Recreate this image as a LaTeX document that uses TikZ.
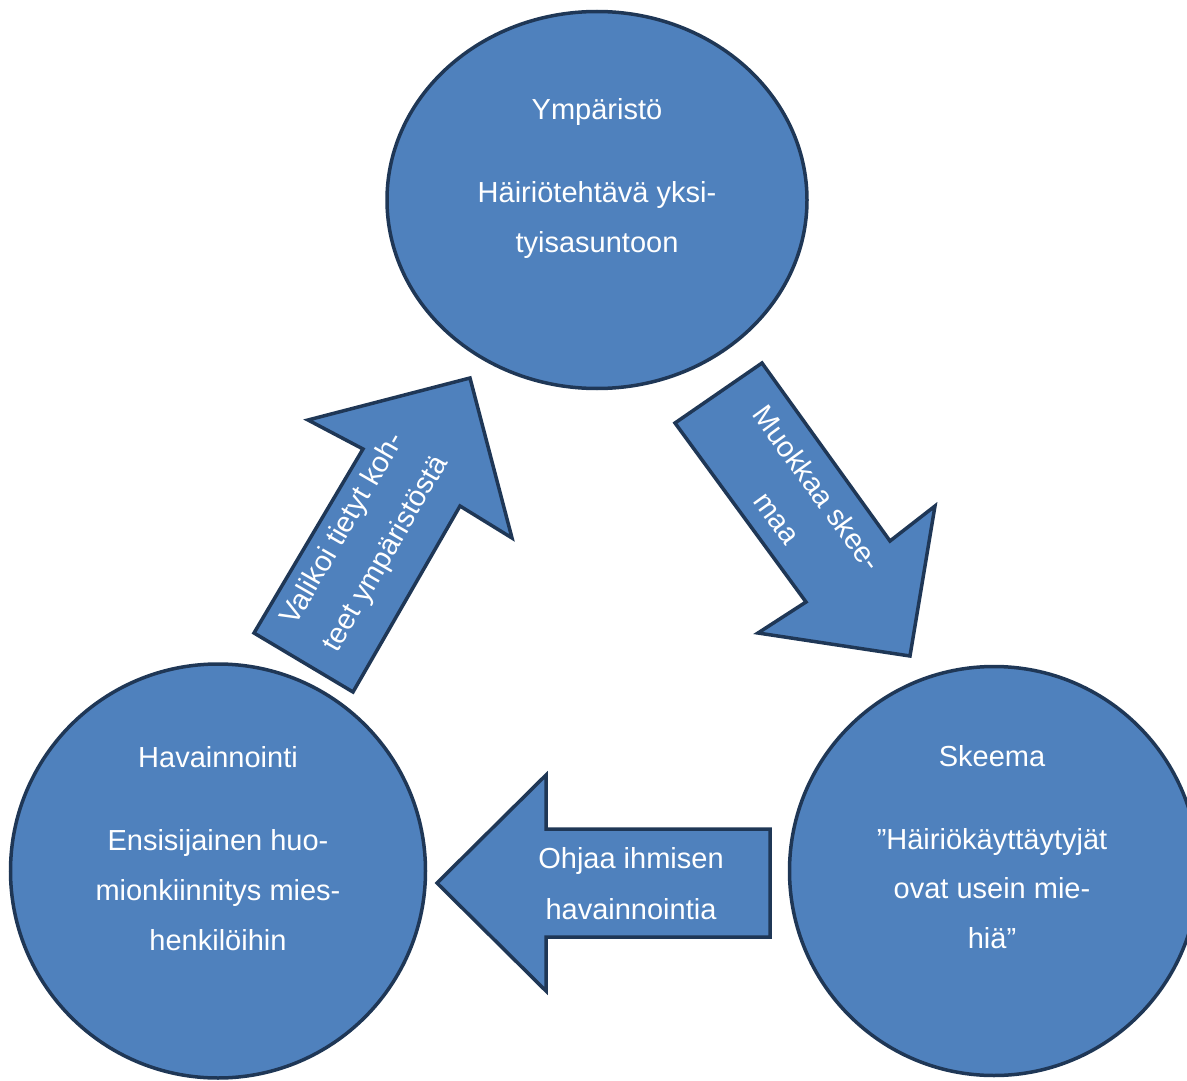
\documentclass[tikz,border=0pt]{standalone}
\usepackage{fontspec}
\setmainfont{Liberation Sans}
\usetikzlibrary{shapes.geometric}
\definecolor{fillblue}{HTML}{4F81BD}
\definecolor{edgeblue}{HTML}{1F3756}
\begin{document}
\begin{tikzpicture}[x=1pt,y=-1pt,
  circ/.style={ellipse, draw=edgeblue, fill=fillblue, line width=3.5pt, inner sep=0pt},
  blockarrow/.style={draw=edgeblue, fill=fillblue, line width=3.5pt, line join=miter},
  lbl/.style={text=white, font=\fontsize{29}{50}\selectfont, anchor=base, inner sep=0pt}]
\useasboundingbox (0,0) rectangle (1187,1081);
\clip (0,0) rectangle (1187,1081);

% circles
\node[circ, minimum width=420pt, minimum height=377pt] (env) at (597,200) {};
\node[circ, minimum width=415pt, minimum height=414pt] (perc) at (218,871) {};
\node[circ, minimum width=409pt, minimum height=409pt] (schema) at (994,871) {};

% arrow: perception -> environment
\coordinate (u1) at (470,378);
\coordinate (u2) at (512,538);
\coordinate (u3) at (460,506);
\coordinate (u4) at (353,692);
\coordinate (u5) at (254,633);
\coordinate (u6) at (363,449);
\coordinate (u7) at (308,420);
\draw[blockarrow] (u1) -- (u2) -- (u3) -- (u4) -- (u5) -- (u6) -- (u7) -- cycle;

% arrow: environment -> schema
\coordinate (r1) at (910,656);
\coordinate (r2) at (758,633);
\coordinate (r3) at (806,602);
\coordinate (r4) at (675,423);
\coordinate (r5) at (762,363);
\coordinate (r6) at (890,541);
\coordinate (r7) at (935,506);
\draw[blockarrow] (r1) -- (r2) -- (r3) -- (r4) -- (r5) -- (r6) -- (r7) -- cycle;

% arrow: schema -> perception
\coordinate (l1) at (437,883);
\coordinate (l2) at (546,775);
\coordinate (l3) at (546,829);
\coordinate (l4) at (770,829);
\coordinate (l5) at (770,937);
\coordinate (l6) at (546,937);
\coordinate (l7) at (546,991);
\draw[blockarrow] (l1) -- (l2) -- (l3) -- (l4) -- (l5) -- (l6) -- (l7) -- cycle;

% texts: environment
\node[lbl] (envt1) at (597,120) {Ympäristö};
\node[lbl] (envt2) at (597,202) {Häiriötehtävä yksi-};
\node[lbl] (envt3) at (597,252) {tyisasuntoon};

% texts: perception
\node[lbl] (perct1) at (218,767) {Havainnointi};
\node[lbl] (perct2) at (218,850) {Ensisijainen huo-};
\node[lbl] (perct3) at (218,900) {mionkiinnitys mies-};
\node[lbl] (perct4) at (218,950) {henkilöihin};

% texts: schema
\node[lbl] (scht1) at (992,766) {Skeema};
\node[lbl] (scht2) at (992,849) {”Häiriökäyttäytyjät};
\node[lbl] (scht3) at (992,898) {ovat usein mie-};
\node[lbl] (scht4) at (992,948) {hiä”};

% texts: arrows
\node[lbl] (lt1) at (631,868) {Ohjaa ihmisen};
\node[lbl] (lt2) at (631,919) {havainnointia};
\node[lbl, rotate=60] (ut1) at (350,533) {Valikoi tietyt koh-};
\node[lbl, rotate=60] (ut2) at (393,558) {teet ympäristöstä};
\node[lbl, rotate=-54] (rt1) at (809,494) {Muokkaa skee-};
\node[lbl, rotate=-54] (rt2) at (769,524) {maa};
\end{tikzpicture}
\end{document}
